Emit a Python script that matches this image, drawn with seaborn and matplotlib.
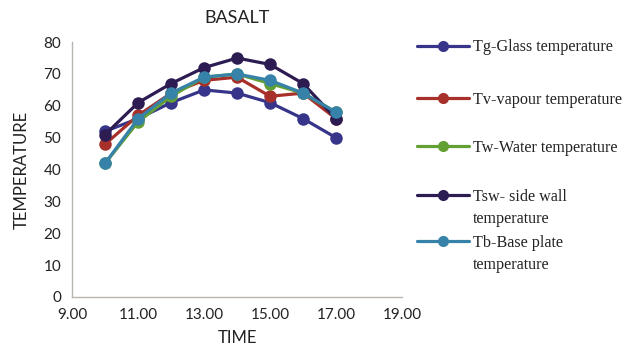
import matplotlib
matplotlib.use("Agg")
import matplotlib.pyplot as plt
import seaborn as sns
import pandas as pd

# Hourly readings for the basalt still
time = [10, 11, 12, 13, 14, 15, 16, 17]
tg = [52, 56, 61, 65, 64, 61, 56, 50]
tv = [48, 57, 64, 68, 69, 63, 64, 56]
tw = [42, 55, 63, 69, 70, 67, 64, 58]
tsw = [51, 61, 67, 72, 75, 73, 67, 56]
tb = [42, 56, 64, 69, 70, 68, 64, 58]

series = ["Tg-Glass temperature", "Tv-vapour temperature", "Tw-Water temperature",
          "Tsw- side wall temperature", "Tb-Base plate temperature"]
# legend text: first line next to the key, optional second line below it
legend_lines = [("Tg-Glass temperature", ""), ("Tv-vapour temperature", ""),
                ("Tw-Water temperature", ""), ("Tsw- side wall", "temperature"),
                ("Tb-Base plate", "temperature")]
colors = ["#37358a", "#a8302a", "#62a034", "#2c1c52", "#3682a8"]

frames = []
for lab, vals in zip(series, [tg, tv, tw, tsw, tb]):
    frames.append(pd.DataFrame({"TIME": time, "TEMPERATURE": vals, "series": lab}))
df = pd.concat(frames, ignore_index=True)

sns.set_theme(style="white")
plt.rcParams["font.family"] = ["Lato", "DejaVu Sans"]

fig = plt.figure(figsize=(6.28, 3.60), dpi=100)
ax = fig.add_axes([0.115, 0.175, 0.525, 0.708])

sns.lineplot(data=df, x="TIME", y="TEMPERATURE", hue="series", hue_order=series,
             palette=colors, marker="o", markersize=9, markeredgewidth=0,
             linewidth=2.3, ax=ax, legend=False)

ax.set_xlim(9, 19)
ax.set_ylim(0, 80)
ax.set_xticks([9, 11, 13, 15, 17, 19])
ax.set_xticklabels([f"{v:.2f}" for v in [9, 11, 13, 15, 17, 19]])
ax.set_yticks(range(0, 81, 10))
ax.tick_params(axis="both", length=0, labelsize=11, colors="#222222", pad=8)
for side in ["top", "right"]:
    ax.spines[side].set_visible(False)
for side in ["left", "bottom"]:
    ax.spines[side].set_color("#b8b4b0")
    ax.spines[side].set_linewidth(1)

ax.set_xlabel("TIME", fontsize=12, color="#222222", labelpad=6)
ax.set_ylabel("TEMPERATURE", fontsize=12, color="#222222", labelpad=10)
ax.set_title("BASALT", fontsize=13, color="#222222", pad=14)

# Legend entries, evenly spaced down the right-hand side
serif = {"family": "Liberation Serif", "size": 11.6}
entry_y = [0.869, 0.722, 0.589, 0.453, 0.325]
line_gap = 0.062
for (first, second), c, yc in zip(legend_lines, colors, entry_y):
    h = plt.Line2D([], [], color=c, marker="o", markersize=8, markeredgewidth=0,
                   linewidth=2.3)
    leg = fig.legend([h], [first], loc="center left", bbox_to_anchor=(0.664, yc),
                     frameon=False, handlelength=3.2, prop=serif,
                     borderaxespad=0, borderpad=0, handletextpad=0.3)
    leg.get_texts()[0].set_color("#222222")
    if second:
        fig.text(0.753, yc - line_gap, second, ha="left", va="center",
                 color="#222222", fontdict=serif)

fig.savefig("out.png", dpi=100)
